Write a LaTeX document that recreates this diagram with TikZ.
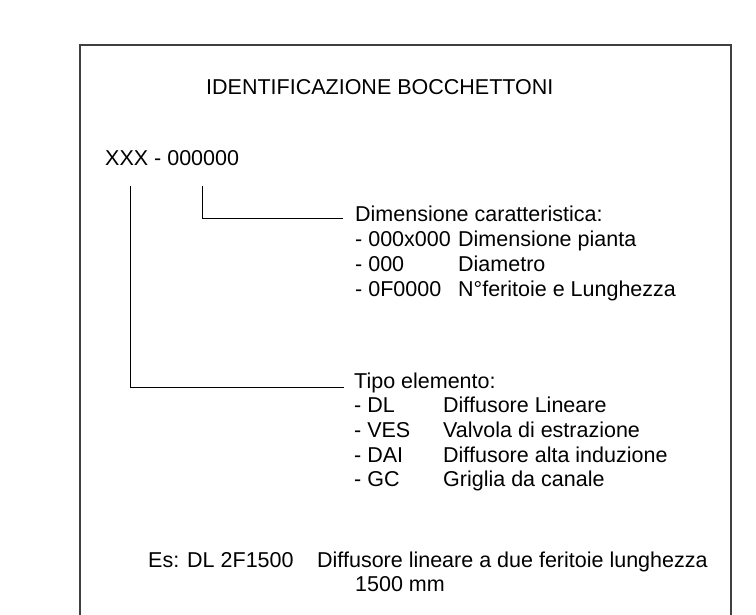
\documentclass[tikz,border=0pt]{standalone}
\usepackage{fontspec}
\setmainfont{Liberation Sans}
\usetikzlibrary{positioning}

\begin{document}
\begin{tikzpicture}[
        x=1pt, y=-1pt,
        font=\fontsize{21.5}{24.7}\selectfont,
        txt/.style={anchor=base west, inner sep=0pt},
        frame/.style={draw=black!75, line width=1.2pt},
        lead/.style={draw=black, line width=1pt}
        ]
        \useasboundingbox (0,0) rectangle (756,615);

        % open frame, runs off the bottom of the page
        \draw[frame] (80,615) -- (80,45) -- (731,45) -- (731,615);

        \node (title) [txt] at (206,95) {IDENTIFICAZIONE BOCCHETTONI};
        \node (code) [txt] at (105,166) {XXX - 000000};

        \node (dim) [txt] at (355,222) {\begin{tabular}[t]{@{}p{103pt}@{}l@{}}
            \multicolumn{2}{@{}l@{}}{Dimensione caratteristica:}\\
            - 000x000 & Dimensione pianta\\
            - 000     & Diametro\\
            - 0F0000  & N°feritoie e Lunghezza
            \end{tabular}};

        \node (tipo) [txt] at (354,388) {\begin{tabular}[t]{@{}p{89pt}@{}l@{}}
            \multicolumn{2}{@{}l@{}}{Tipo elemento:}\\
            - DL  & Diffusore Lineare\\
            - VES & Valvola di estrazione\\
            - DAI & Diffusore alta induzione\\
            - GC  & Griglia da canale
            \end{tabular}};

        \node (es) [txt] at (148,567) {Es: DL 2F1500};
        \node (esdesc) [txt] at (317,567) {\begin{tabular}[t]{@{}l@{}}
            Diffusore lineare a due feritoie lunghezza\\
            \hspace*{38pt}1500 mm
            \end{tabular}};

        % leaders from the code fields to their legends
        \coordinate (xxx) at ([xshift=25pt, yshift=-20pt]code.base west);
        \coordinate (num) at ([xshift=97pt, yshift=-20pt]code.base west);
        \draw[lead] (num) |- ([xshift=-12pt, yshift=3pt]dim.base west);
        \draw[lead] (xxx) |- ([xshift=-10pt, yshift=1pt]tipo.base west);
\end{tikzpicture}
\end{document}
